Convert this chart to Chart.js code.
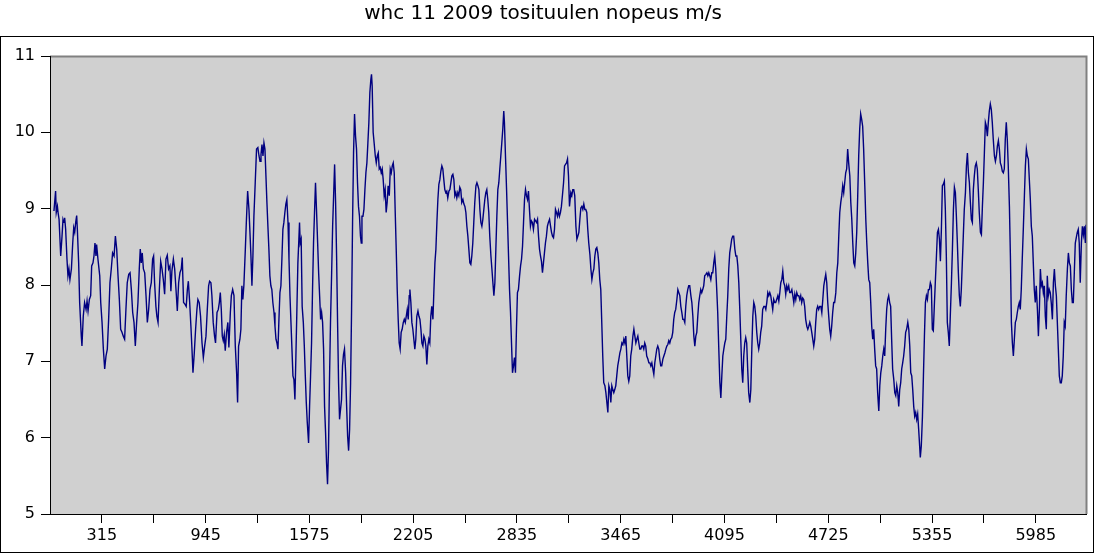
<!DOCTYPE html>
<html>
<head>
<meta charset="utf-8">
<title>whc 11 2009 tosituulen nopeus</title>
<script src="https://cdn.jsdelivr.net/npm/chart.js@4.4.1/dist/chart.umd.min.js"></script>
<style>
    html, body { margin: 0; padding: 0; background: #fff; }
    #wrap { width: 1095px; height: 553px; }
</style>
</head>
<body>
<div id="wrap"><canvas id="canvas" width="1095" height="553"></canvas></div>
<script>
// Otsikko ja akselit
let chartTitle = 'whc 11 2009 tosituulen nopeus m/s';
let tickMarks = [315, 630, 945, 1260, 1575, 1890, 2205, 2520, 2835, 3150,
    3465, 3780, 4095, 4410, 4725, 5040, 5355, 5670, 5985];
let tickLabels = ['315', '945', '1575', '2205', '2835', '3465', '4095', '4725', '5355', '5985'];
let yMin = 5;
let yMax = 11;
let xMax = 6290;

// Mittausnumero (x)
let sampleNo = [
    24,34,38,45,49,55,65,73,79,85,89,95,
    103,109,115,121,130,138,144,150,156,162,166,174,
    180,190,194,202,210,219,225,231,239,247,253,261,
    267,273,279,283,291,302,308,316,324,332,340,348,
    356,364,372,380,389,397,405,413,421,429,437,445,
    453,461,469,478,486,494,502,510,518,526,534,542,
    548,554,560,567,575,583,591,599,607,615,623,
    629,635,643,649,656,664,672,680,688,696,704,712,
    720,728,734,740,749,757,765,773,781,789,797,803,
    811,819,827,834,840,848,856,862,868,876,884,892,
    898,906,914,923,931,939,947,955,963,969,977,983,
    991,999,1005,1014,1022,1028,1034,1040,1046,1052,1058,1064,
    1072,1080,1086,1095,1101,1109,1117,1125,1133,1139,1145,1153,
    1159,1165,1171,1177,1186,1192,1200,1208,1214,1220,1226,1232,
    1238,1246,1254,
    1262,1269,1275,1281,1287,1293,1299,1305,1311,1317,1323,1329,
    1335,1341,1347,1353,1360,1366,1372,1378,1384,1390,1396,1402,
    1408,1414,1420,1426,1432,1438,1445,1451,1457,1463,1469,1475,
    1481,1487,1493,1499,1505,1511,1515,1519,1525,1531,1538,1544,
    1550,1556,1562,1570,1576,1582,1588,1594,1600,1606,1612,1618,
    1625,1631,1637,1643,1649,1655,1661,1667,1673,1679,1685,1691,
    1697,1703,1710,1716,1722,1728,1734,1740,1746,1752,1758,1764,
    1770,1776,1782,1788,1795,1801,1807,1813,1819,1825,1831,1837,
    1843,1849,1855,1861,1867,1873,1879,1885,1890,
    1894,1900,1906,1912,1918,1924,1930,1936,1942,1948,1952,1956,
    1962,1968,1975,1981,1987,1993,1999,2005,2011,2017,2023,2029,
    2035,2041,2047,2053,2060,2066,2072,2078,2084,2090,2096,2102,
    2108,2114,2120,2126,2132,2138,2145,2151,2157,2163,2169,2175,
    2181,2185,2191,2197,2203,2209,2215,2221,2227,2234,2240,2246,
    2252,2258,2264,2270,2276,2282,2288,2294,2300,2306,2312,2318,
    2325,2331,2337,2343,2349,2355,2361,2367,2373,2379,2385,2391,
    2397,2403,2409,2415,2422,2428,2434,2440,2446,2452,2458,2464,
    2470,2476,2482,2488,2494,2500,2507,2513,2519,
    2525,2531,2537,2543,2549,2555,2561,2567,2573,2579,2586,2592,
    2598,2604,2610,2616,2622,2628,2634,2640,2646,2652,2658,2664,
    2670,2677,2683,2689,2695,2701,2707,2713,2719,2725,2731,2737,
    2743,2749,2755,2759,2766,2772,2778,2784,2790,2796,2802,2808,
    2814,2820,2826,2832,2838,2844,2851,2857,2863,2869,2875,2881,
    2887,2893,2899,2905,2911,2917,2923,2929,2935,2942,2948,2954,
    2960,2966,2972,2978,2984,2990,2996,3002,3008,3014,3020,3026,
    3033,3039,3045,3051,3057,3063,3069,3075,3081,3087,3093,3099,
    3105,3111,3118,3124,3130,3136,3142,3148,3154,
    3162,3168,3174,3180,3186,3193,3199,3205,3211,3217,3223,3229,
    3235,3241,3247,3253,3259,3265,3271,3278,3284,3290,3296,3302,
    3308,3314,3320,3326,3332,3338,3344,3350,3356,3362,3369,3375,
    3381,3387,3393,3399,3405,3411,3417,3423,3429,3435,3441,3447,
    3454,3460,3466,3472,3478,3484,3490,3496,3502,3508,3514,3520,
    3526,3532,3539,3545,3551,3557,3563,3569,3575,3581,3587,3593,
    3599,3605,3611,3617,3623,3630,3636,3642,3648,3654,3660,3666,
    3672,3678,3684,3690,3696,3702,3708,3714,3721,3727,3733,3739,
    3745,3751,3757,3763,3769,3775,3781,
    3787,3793,3799,3806,3812,3818,3824,3830,3836,3842,3848,3854,
    3860,3866,3872,3878,3884,3891,3897,3903,3909,3915,3921,3927,
    3933,3939,3945,3951,3957,3963,3969,3975,3982,3988,3994,4000,
    4006,4012,4018,4024,4030,4036,4042,4048,4054,4060,4067,4073,
    4079,4085,4091,4097,4103,4109,4115,4121,4127,4133,4139,4145,
    4151,4158,4164,4170,4176,4182,4188,4194,4200,4206,4212,4218,
    4224,4230,4236,4242,4249,4255,4261,4267,4273,4279,4285,4291,
    4297,4303,4309,4315,4321,4327,4334,4340,4346,4352,4358,4364,
    4370,4376,4382,4388,4394,4400,4406,4412,
    4419,4425,4431,4437,4443,4449,4455,4461,4467,4473,4479,4485,
    4491,4497,4504,4510,4516,4522,4528,4534,4540,4546,4552,4558,
    4564,4570,4576,4582,4588,4595,4601,4607,4613,4619,4625,4631,
    4637,4643,4649,4655,4661,4667,4673,4680,4686,4692,4698,4704,
    4710,4716,4722,4728,4734,4740,4746,4752,4758,4764,4771,4777,
    4783,4789,4795,4801,4807,4813,4819,4825,4831,4837,4843,4849,
    4856,4862,4868,4874,4880,4886,4892,4898,4904,4910,4916,4922,
    4928,4934,4940,4947,4953,4959,4965,4971,4977,4983,4989,4995,
    5001,5007,5013,5019,5025,5032,5038,5044,
    5050,5056,5062,5068,5074,5080,5086,5092,5098,5104,5110,5116,
    5123,5129,5135,5141,5147,5153,5159,5165,5171,5177,5183,5189,
    5195,5201,5208,5214,5220,5226,5232,5238,5244,5250,5256,5262,
    5268,5274,5280,5284,5290,5297,5303,5309,5315,5321,5327,5333,
    5339,5345,5351,5357,5363,5369,5375,5382,5388,5394,5400,5406,
    5412,5418,5424,5430,5436,5442,5448,5454,5460,5466,5473,5479,
    5485,5491,5497,5503,5509,5515,5521,5527,5533,5539,5545,5551,
    5558,5564,5570,5576,5582,5588,5594,5600,5606,5612,5618,5624,
    5630,5636,5642,5649,5655,5661,5667,5673,5679,
    5685,5691,5697,5703,5709,5715,5721,5727,5734,5740,5746,5752,
    5758,5764,5770,5776,5782,5788,5794,5800,5806,5812,5818,5825,
    5831,5837,5843,5849,5855,5861,5867,5873,5879,5885,5891,5897,
    5903,5910,5916,5922,5928,5934,5940,5946,5952,5958,5964,5970,
    5976,5982,5988,5995,6001,6007,6013,6019,6025,6031,6037,6043,
    6049,6055,6061,6067,6073,6079,6086,6092,6098,6104,6110,6116,
    6122,6128,6134,6140,6146,6152,6158,6164,6170,6177,6183,6189,
    6195,6201,6207,6213,6219,6225,6231,6237,6243,6249,6255,6262,
    6268,6274,6280,6286,6290
];

// Tuulen nopeus m/s (y)
let windSpeed = [
    8.97,9.23,8.95,9.03,8.95,8.86,8.38,8.64,8.86,8.82,8.88,8.73,
    8.34,8.12,8.21,8.07,8.21,8.55,8.75,8.69,8.82,8.91,8.73,8.29,
    7.77,7.33,7.20,7.59,7.77,7.68,7.79,7.66,7.81,7.86,8.25,8.29,
    8.38,8.55,8.38,8.53,8.34,8.12,7.77,7.51,7.16,6.90,7.07,7.16,
    7.55,8.03,8.21,8.42,8.38,8.64,8.47,8.12,7.81,7.42,7.38,7.33,
    7.29,7.68,8.03,8.14,8.16,7.94,7.64,7.51,7.20,7.51,7.77,8.21,
    8.47,8.29,8.42,8.21,8.16,7.86,7.51,7.68,7.94,8.03,8.34,
    8.38,8.03,7.72,7.59,7.51,7.94,8.31,8.21,8.07,7.88,8.34,8.39,
    8.21,8.25,7.92,8.18,8.34,8.21,7.94,7.66,8.03,8.16,8.21,8.36,
    7.77,7.75,7.72,7.94,8.05,7.77,7.44,7.16,6.85,7.11,7.42,7.68,
    7.81,7.77,7.59,7.24,7.05,7.20,7.33,7.68,7.99,8.05,8.03,7.86,
    7.51,7.33,7.24,7.64,7.68,7.77,7.90,7.68,7.33,7.27,7.35,7.14,
    7.38,7.51,7.18,7.64,7.86,7.94,7.86,7.20,6.85,6.46,7.20,7.29,
    7.42,7.99,7.81,7.99,8.47,8.82,9.23,8.99,8.69,8.38,7.99,8.38,
    8.90,9.34,9.78,
    9.80,9.69,9.62,9.71,9.84,9.69,9.86,9.78,9.43,9.08,8.77,8.47,
    8.12,7.99,7.94,7.77,7.64,7.46,7.29,7.24,7.16,7.55,7.90,7.99,
    8.34,8.73,8.82,8.95,9.06,9.12,8.82,8.34,7.86,7.51,7.16,6.81,
    6.76,6.50,7.07,7.68,8.29,8.60,8.82,8.55,8.60,7.72,7.51,7.20,
    6.81,6.46,6.20,5.93,6.41,6.81,7.24,7.94,8.55,8.95,9.34,8.99,
    8.55,8.16,7.86,7.55,7.64,7.51,7.16,6.41,6.07,5.67,5.39,5.85,
    6.76,7.51,8.16,8.77,9.17,9.58,9.08,8.38,7.51,6.72,6.24,6.37,
    6.50,6.94,7.09,7.16,6.85,6.41,6.02,5.83,6.11,6.72,7.68,8.82,
    9.73,10.24,9.95,9.78,9.34,9.03,8.90,8.64,8.55,
    8.90,8.90,8.99,9.25,9.47,9.60,9.86,10.13,10.52,10.69,10.76,10.61,
    10.00,9.86,9.69,9.60,9.69,9.73,9.52,9.54,9.47,9.52,9.38,9.17,
    9.25,8.95,9.08,9.30,9.17,9.52,9.47,9.56,9.60,9.47,8.95,8.47,
    7.94,7.55,7.24,7.16,7.38,7.42,7.51,7.55,7.51,7.59,7.68,7.55,
    7.86,7.94,7.77,7.51,7.42,7.29,7.16,7.29,7.59,7.66,7.59,7.55,
    7.42,7.24,7.20,7.33,7.29,7.20,6.96,7.20,7.29,7.24,7.59,7.72,
    7.55,7.94,8.29,8.47,8.82,9.12,9.32,9.38,9.49,9.56,9.52,9.38,
    9.25,9.21,9.23,9.14,9.23,9.25,9.34,9.43,9.45,9.38,9.17,9.21,
    9.14,9.21,9.17,9.28,9.25,9.08,9.12,9.06,9.03,
    8.95,8.77,8.64,8.47,8.29,8.27,8.38,8.55,8.82,9.08,9.30,9.34,
    9.30,9.25,8.99,8.82,8.77,8.86,8.99,9.12,9.21,9.25,9.12,8.95,
    8.64,8.38,8.21,8.03,7.86,8.03,8.47,8.90,9.25,9.34,9.52,9.69,
    9.86,10.04,10.28,10.13,9.65,9.25,8.82,8.38,7.94,7.64,7.24,6.85,
    6.94,7.05,6.85,7.42,7.90,7.94,8.12,8.25,8.34,8.51,8.82,9.12,
    9.25,9.17,9.12,9.23,8.99,8.77,8.84,8.82,8.73,8.86,8.84,8.82,
    8.86,8.64,8.47,8.38,8.31,8.16,8.29,8.42,8.55,8.64,8.77,8.82,
    8.86,8.77,8.69,8.64,8.62,8.73,8.99,8.95,8.90,8.97,8.90,8.95,
    9.03,9.17,9.34,9.56,9.58,9.60,9.65,9.43,9.03,
    9.21,9.17,9.25,9.25,9.17,8.77,8.60,8.64,8.69,8.86,9.01,9.03,
    8.99,9.06,8.99,8.99,8.95,8.73,8.55,8.40,8.21,8.07,8.16,8.21,
    8.38,8.47,8.49,8.42,8.29,8.07,7.94,7.51,7.07,6.72,6.68,6.59,
    6.46,6.33,6.68,6.63,6.46,6.68,6.63,6.59,6.63,6.68,6.81,6.94,
    7.03,7.11,7.16,7.24,7.22,7.29,7.24,7.33,7.07,6.81,6.74,6.81,
    7.07,7.16,7.33,7.42,7.33,7.24,7.29,7.33,7.24,7.16,7.16,7.20,
    7.20,7.16,7.24,7.20,7.07,7.03,6.98,6.98,6.94,6.98,6.90,6.83,
    6.98,7.07,7.16,7.20,7.16,7.03,6.94,6.94,7.03,7.07,7.11,7.16,
    7.20,7.22,7.27,7.24,7.29,7.31,7.38,
    7.55,7.64,7.68,7.81,7.94,7.90,7.86,7.72,7.64,7.55,7.55,7.51,
    7.72,7.86,7.94,7.99,7.99,7.86,7.77,7.59,7.33,7.20,7.33,7.38,
    7.59,7.77,7.86,7.94,7.90,7.94,7.99,8.12,8.14,8.16,8.12,8.16,
    8.12,8.07,8.16,8.16,8.29,8.38,8.21,7.94,7.64,7.20,6.72,6.52,
    6.81,7.07,7.16,7.24,7.29,7.59,7.86,8.21,8.42,8.51,8.60,8.64,
    8.64,8.47,8.38,8.38,8.25,8.03,7.68,7.29,6.90,6.72,7.07,7.24,
    7.31,7.24,6.90,6.59,6.46,6.63,7.16,7.59,7.77,7.72,7.59,7.38,
    7.24,7.16,7.24,7.38,7.46,7.68,7.72,7.72,7.68,7.77,7.90,7.86,
    7.90,7.86,7.77,7.68,7.81,7.77,7.77,7.81,
    7.86,7.79,7.90,8.03,8.07,8.18,8.03,7.99,7.88,7.99,7.94,7.99,
    7.90,7.90,7.94,7.86,7.77,7.88,7.81,7.90,7.86,7.86,7.81,7.86,
    7.77,7.83,7.81,7.72,7.55,7.46,7.42,7.46,7.51,7.46,7.38,7.29,
    7.20,7.29,7.51,7.68,7.72,7.68,7.72,7.72,7.64,7.81,7.99,8.07,
    8.14,8.03,7.77,7.59,7.42,7.33,7.46,7.64,7.77,7.77,7.90,8.16,
    8.29,8.64,8.95,9.08,9.17,9.30,9.21,9.34,9.47,9.52,9.78,9.60,
    9.43,9.08,8.86,8.55,8.29,8.25,8.42,8.69,9.17,9.69,10.04,10.24,
    10.17,10.08,9.78,9.30,8.86,8.55,8.29,8.07,8.03,7.77,7.46,7.29,
    7.42,7.16,6.94,6.90,6.59,6.35,6.68,6.85,
    6.94,7.07,7.16,7.07,7.42,7.68,7.81,7.86,7.77,7.72,7.29,6.90,
    6.76,6.59,6.55,6.68,6.59,6.41,6.63,6.72,6.90,6.98,7.07,7.20,
    7.38,7.42,7.51,7.42,7.20,6.85,6.81,6.63,6.41,6.28,6.33,6.24,
    6.31,6.11,5.89,5.74,5.89,6.28,6.81,7.33,7.77,7.86,7.81,7.94,
    7.94,8.03,7.99,7.42,7.40,7.72,8.03,8.38,8.69,8.73,8.60,8.31,
    8.73,9.30,9.32,9.36,8.99,8.38,7.51,7.38,7.20,7.59,8.03,8.47,
    8.99,9.28,9.21,8.90,8.55,8.16,7.86,7.72,7.94,8.29,8.64,8.99,
    9.21,9.56,9.73,9.47,9.34,9.08,8.86,8.82,9.25,9.43,9.56,9.60,
    9.52,9.25,8.95,8.69,8.66,9.03,9.34,9.73,10.13,
    10.08,9.95,10.13,10.28,10.37,10.30,10.13,9.91,9.69,9.62,9.69,9.82,
    9.89,9.78,9.60,9.56,9.49,9.47,9.52,9.91,10.13,9.91,9.56,9.03,
    8.38,7.51,7.24,7.07,7.29,7.51,7.55,7.64,7.72,7.77,7.68,7.94,
    8.34,8.77,9.17,9.56,9.78,9.69,9.65,9.38,9.12,8.77,8.64,8.29,
    7.94,7.77,7.99,7.68,7.33,7.68,8.21,7.99,8.03,7.90,7.99,7.59,
    7.42,8.12,7.86,7.94,7.90,7.77,7.55,8.03,8.21,7.99,7.86,7.51,
    7.16,6.81,6.72,6.72,6.81,7.07,7.51,7.46,7.86,8.21,8.42,8.29,
    8.25,7.94,7.77,7.77,8.16,8.55,8.62,8.69,8.73,8.55,8.03,8.55,
    8.77,8.66,8.77,8.55,8.79
];

// Harmaa kuva-ala ja kehykset
let plotFrame = {
    id: 'plotFrame',
    beforeDraw: function(chart) {
        let ctx = chart.ctx;
        let a = chart.chartArea;
        ctx.save();
        ctx.fillStyle = '#ffffff';
        ctx.fillRect(0, 0, chart.width, chart.height);
        ctx.strokeStyle = '#000000';
        ctx.lineWidth = 1;
        ctx.strokeRect(0.5, 36.5, chart.width - 2, chart.height - 37);
        ctx.fillStyle = '#d0d0d0';
        ctx.fillRect(a.left, a.top, a.right - a.left, a.bottom - a.top);
        ctx.strokeStyle = '#808080';
        ctx.lineWidth = 2;
        ctx.beginPath();
        ctx.moveTo(a.left, a.top + 0.5);
        ctx.lineTo(a.right + 0.5, a.top + 0.5);
        ctx.lineTo(a.right + 0.5, a.bottom);
        ctx.stroke();
        ctx.restore();
    }
};

let points = sampleNo.map(function(x, i) {
    return { x: x, y: windSpeed[i] };
});

Chart.defaults.font.family = "'DejaVu Sans', sans-serif";
Chart.defaults.font.size = 16;
Chart.defaults.color = '#000';

let ctx = document.getElementById('canvas').getContext('2d');
let config = {
    type: 'line',
    data: {
        datasets: [{
            label: chartTitle,
            data: points,
            borderColor: '#000080',
            borderWidth: 1.4,
            pointRadius: 0,
            tension: 0,
            fill: false
        }]
    },
    options: {
        responsive: false,
        animation: false,
        devicePixelRatio: 1,
        layout: { padding: { top: 0, right: 9, bottom: 0, left: 0 } },
        plugins: {
            legend: { display: false },
            tooltip: { enabled: false },
            title: {
                display: true,
                text: chartTitle,
                color: '#000',
                font: { size: 20, weight: 'normal' },
                padding: { top: 2, bottom: 30 }
            }
        },
        scales: {
            x: {
                type: 'linear',
                min: 0,
                max: xMax,
                afterBuildTicks: function(scale) {
                    scale.ticks = tickMarks.map(function(v) { return { value: v }; });
                },
                afterFit: function(scale) { scale.height = 39; },
                ticks: {
                    autoSkip: false,
                    maxRotation: 0,
                    padding: 3,
                    callback: function(value) {
                        return tickLabels.indexOf(String(value)) >= 0 ? String(value) : '';
                    }
                },
                grid: { drawOnChartArea: false, drawTicks: true, tickLength: 9, color: '#000' },
                border: { display: true, color: '#000', width: 1 }
            },
            y: {
                min: yMin,
                max: yMax,
                afterFit: function(scale) { scale.width = 50; },
                ticks: { stepSize: 1, padding: 6 },
                grid: { drawOnChartArea: false, drawTicks: true, tickLength: 9, color: '#000' },
                border: { display: true, color: '#000', width: 1 }
            }
        }
    },
    plugins: [plotFrame]
};

let chart = new Chart(ctx, config);
</script>
</body>
</html>
